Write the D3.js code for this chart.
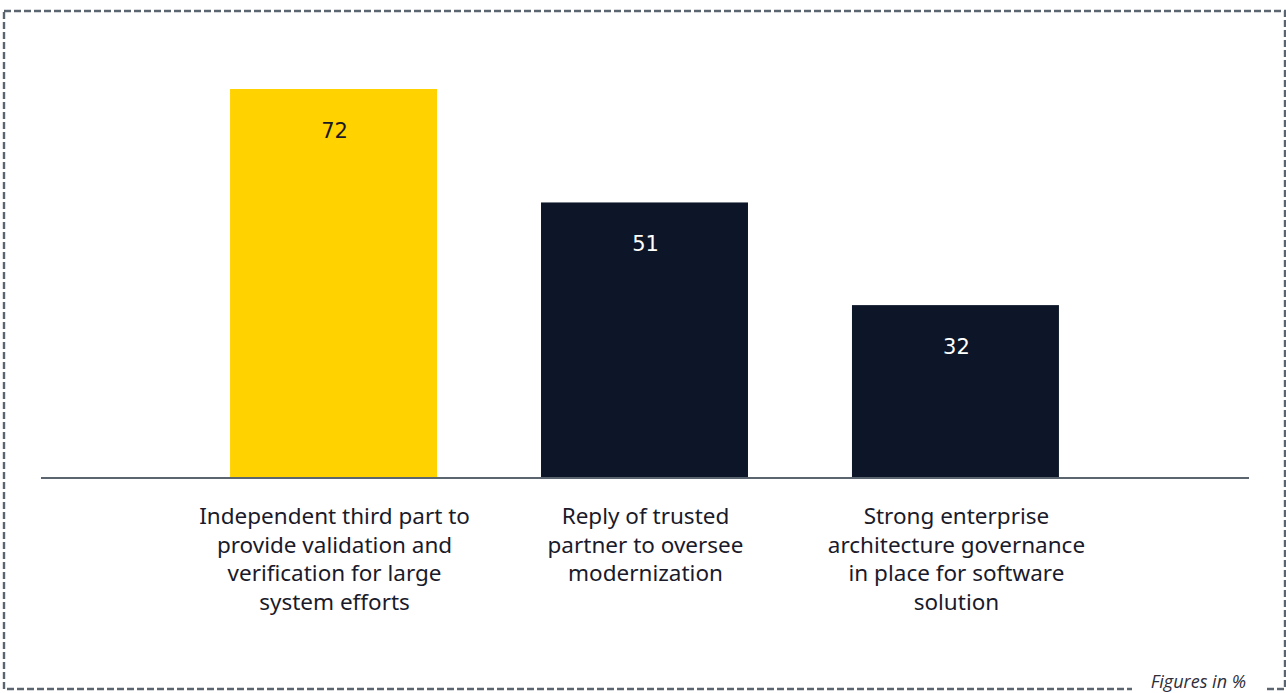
<!DOCTYPE html>
<html>
<head>
<meta charset="utf-8">
<script src="https://cdn.jsdelivr.net/npm/d3@7"></script>
<style>
  html, body { margin: 0; padding: 0; background: #ffffff; }
  svg { display: block; }
</style>
</head>
<body>
<svg id="chart" width="1286" height="693"></svg>
<script>
// Survey responses, percent of respondents
const categories = [
  ["Independent third part to", "provide validation and", "verification for large", "system efforts"],
  ["Reply of trusted", "partner to oversee", "modernization"],
  ["Strong enterprise", "architecture governance", "in place for software", "solution"]
];
const values = [72, 51, 32];
const highlight = [true, false, false];
const footnote = "Figures in %";

const svg = d3.select("#chart");

const yellow = "#FFD200";
const navy = "#0C1628";
const grey = "#5B6570";

// dashed frame
svg.append("rect")
  .attr("x", 4).attr("y", 11)
  .attr("width", 1285 - 4).attr("height", 689 - 11)
  .attr("fill", "none")
  .attr("stroke", grey)
  .attr("stroke-width", 2.4)
  .attr("stroke-dasharray", "7 3");

// white gap in the frame behind the footnote
svg.append("rect")
  .attr("x", 1132).attr("y", 678)
  .attr("width", 132).attr("height", 15)
  .attr("fill", "#ffffff");

svg.append("text")
  .attr("x", 1246).attr("y", 688)
  .attr("text-anchor", "end")
  .attr("font-family", "'Open Sans', 'Noto Sans', sans-serif")
  .attr("font-style", "italic")
  .attr("font-size", 18)
  .attr("fill", "#2e2e38")
  .text(footnote);

const idx = values.map((d, i) => i);
const x = d3.scaleBand()
  .domain(idx)
  .range([41, 1248])
  .paddingInner(104 / 311)
  .paddingOuter(0.608);

const y = d3.scaleLinear().domain([0, 72]).range([478, 89]);

svg.append("g").selectAll("rect")
  .data(idx)
  .join("rect")
  .attr("x", i => x(i))
  .attr("y", i => y(values[i]))
  .attr("width", x.bandwidth())
  .attr("height", i => y(0) - y(values[i]))
  .attr("fill", i => highlight[i] ? yellow : navy);

svg.append("g").selectAll("text")
  .data(idx)
  .join("text")
  .attr("x", i => x(i) + x.bandwidth() / 2 + 1)
  .attr("y", i => y(values[i]) + 49)
  .attr("text-anchor", "middle")
  .attr("font-family", "'DejaVu Sans', sans-serif")
  .attr("font-size", 21)
  .attr("fill", i => highlight[i] ? "#1a1a24" : "#ffffff")
  .text(i => values[i]);

// baseline axis
const axis = d3.axisBottom(x).tickSize(0).tickFormat("");
const ag = svg.append("g").attr("transform", `translate(0,${y(0)})`).call(axis);
ag.select(".domain").attr("stroke", grey).attr("stroke-width", 2).attr("d", "M41,0H1249");

// category labels
const lab = svg.append("g").selectAll("text")
  .data(idx)
  .join("text")
  .attr("x", i => x(i) + x.bandwidth() / 2)
  .attr("y", 524)
  .attr("text-anchor", "middle")
  .attr("font-family", "'Noto Sans', sans-serif")
  .attr("font-size", 22.5)
  .attr("fill", "#1a1a2a");
lab.each(function(i) {
  d3.select(this).selectAll("tspan")
    .data(categories[i])
    .join("tspan")
    .attr("x", x(i) + x.bandwidth() / 2 + 1)
    .attr("dy", (d, k) => k === 0 ? 0 : 28.7)
    .text(d => d);
});
</script>
</body>
</html>
